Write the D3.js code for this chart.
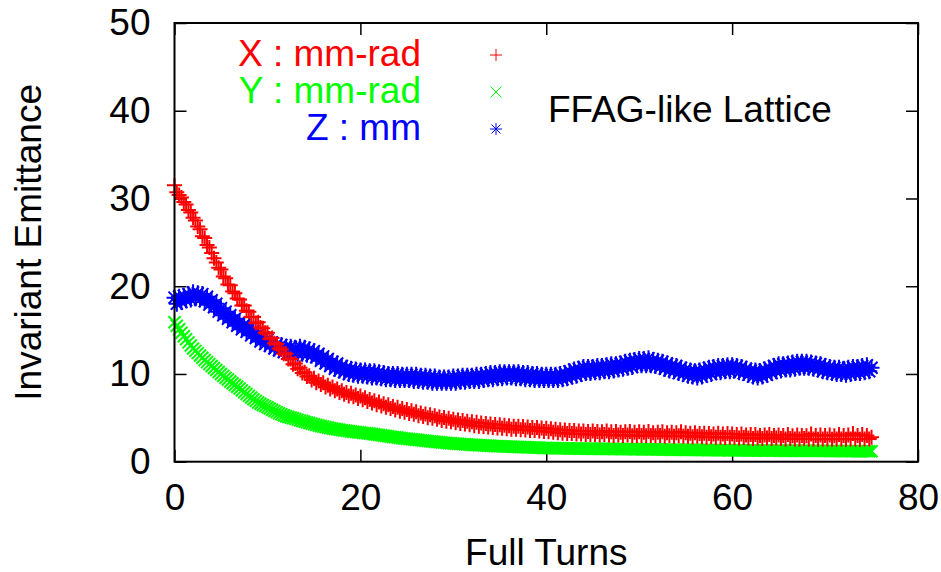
<!DOCTYPE html>
<html>
<head>
<meta charset="utf-8">
<script src="https://cdn.jsdelivr.net/npm/d3@7"></script>
<style>
  body { margin: 0; background: #fff; }
  text { font-family: "Liberation Sans", Arial, sans-serif; }
</style>
</head>
<body>
<div id="chart"></div>
<script>

// samples every quarter turn, 0 .. 75 full turns
const turnStep = 0.25;

// X : mm-rad (red +)
const emitX = [
  31.5, 30.7, 30.4, 30.1, 29.6, 29.3, 28.7, 28.4, 27.8, 27.5, 26.8, 26.5, 25.7, 25.5, 24.7, 24.4, 23.8, 23.2, 22.7, 22.1,
  21.9, 21.1, 20.9, 20.2, 20.1, 19.4, 19.2, 18.6, 18.5, 17.8, 17.8, 17.2, 17.1, 16.5, 16.5, 15.8, 15.9, 15.3, 15.2, 14.7,
  14.7, 14.0, 14.1, 13.5, 13.4, 12.9, 12.8, 12.3, 12.3, 11.7, 11.7, 11.1, 11.2, 10.6, 10.7, 10.1, 10.2, 9.7, 9.8, 9.3,
  9.5, 9.0, 9.2, 8.8, 9.0, 8.5, 8.7, 8.3, 8.5, 8.1, 8.3, 7.9, 8.1, 7.7, 7.9, 7.5, 7.8, 7.4, 7.6, 7.2,
  7.5, 7.05, 7.3, 6.85, 7.1, 6.7, 6.95, 6.5, 6.8, 6.35, 6.6, 6.2, 6.5, 6.05, 6.3, 5.9, 6.2, 5.75, 6.05, 5.65,
  5.95, 5.5, 5.8, 5.4, 5.7, 5.25, 5.55, 5.15, 5.45, 5.0, 5.35, 4.95, 5.25, 4.85, 5.1, 4.7, 5.05, 4.6, 4.95, 4.55,
  4.85, 4.45, 4.75, 4.35, 4.7, 4.3, 4.6, 4.2, 4.55, 4.1, 4.5, 4.05, 4.4, 4.0, 4.35, 3.95, 4.3, 3.9, 4.25, 3.85,
  4.2, 3.8, 4.15, 3.75, 4.1, 3.7, 4.05, 3.7, 4.05, 3.65, 4.0, 3.6, 3.95, 3.55, 3.9, 3.55, 3.9, 3.5, 3.85, 3.45,
  3.8, 3.4, 3.75, 3.35, 3.7, 3.3, 3.65, 3.25, 3.6, 3.2, 3.55, 3.2, 3.55, 3.15, 3.5, 3.15, 3.5, 3.1, 3.45, 3.1,
  3.5, 3.1, 3.45, 3.05, 3.4, 3.1, 3.5, 3.05, 3.4, 3.0, 3.45, 3.05, 3.35, 3.0, 3.4, 3.05, 3.45, 2.95, 3.35, 3.0,
  3.4, 3.0, 3.35, 2.95, 3.45, 3.0, 3.3, 2.95, 3.35, 3.0, 3.4, 2.9, 3.3, 2.95, 3.35, 2.9, 3.3, 2.95, 3.4, 2.9,
  3.3, 2.9, 3.25, 2.85, 3.3, 2.9, 3.2, 2.85, 3.25, 2.8, 3.2, 2.85, 3.15, 2.8, 3.25, 2.8, 3.15, 2.75, 3.2, 2.8,
  3.15, 2.75, 3.1, 2.7, 3.15, 2.75, 3.05, 2.7, 3.1, 2.65, 3.1, 2.7, 3.0, 2.65, 3.05, 2.7, 3.1, 2.65, 3.0, 2.7,
  3.05, 2.65, 3.0, 2.6, 3.1, 2.65, 2.95, 2.6, 3.05, 2.6, 3.0, 2.65, 2.95, 2.6, 3.15, 2.6, 3.0, 2.55, 3.05, 2.6,
  3.0, 2.6, 3.05, 2.55, 2.95, 2.6, 3.1, 2.6, 3.0, 2.55, 3.05, 2.6, 3.2, 2.6, 3.0, 2.55, 3.1, 2.6, 3.0, 2.6,
  2.8
];

// Y : mm-rad (green x)
const emitY = [
  15.9, 15.5, 15.1, 14.7, 14.3, 13.95, 13.6, 13.25, 12.9, 12.63, 12.37, 12.1, 11.85, 11.6, 11.35, 11.12, 10.9, 10.67, 10.45, 10.22,
  10.0, 9.78, 9.57, 9.36, 9.15, 8.95, 8.75, 8.55, 8.35, 8.13, 7.92, 7.71, 7.5, 7.31, 7.12, 6.93, 6.75, 6.61, 6.47, 6.33,
  6.2, 6.06, 5.92, 5.78, 5.65, 5.53, 5.41, 5.29, 5.18, 5.1, 5.03, 4.95, 4.88, 4.8, 4.71, 4.63, 4.55, 4.48, 4.41, 4.34,
  4.27, 4.2, 4.13, 4.06, 4.0, 3.94, 3.89, 3.83, 3.78, 3.73, 3.69, 3.64, 3.6, 3.56, 3.52, 3.49, 3.45, 3.42, 3.38, 3.35,
  3.32, 3.29, 3.26, 3.23, 3.2, 3.16, 3.12, 3.09, 3.05, 3.01, 2.97, 2.94, 2.9, 2.86, 2.82, 2.79, 2.75, 2.72, 2.68, 2.65,
  2.62, 2.59, 2.56, 2.53, 2.5, 2.47, 2.44, 2.41, 2.38, 2.35, 2.32, 2.3, 2.27, 2.24, 2.22, 2.19, 2.17, 2.15, 2.12, 2.1,
  2.08, 2.06, 2.04, 2.02, 2.0, 1.98, 1.96, 1.95, 1.93, 1.91, 1.9, 1.88, 1.87, 1.85, 1.84, 1.82, 1.81, 1.8, 1.78, 1.77,
  1.76, 1.75, 1.74, 1.73, 1.72, 1.71, 1.7, 1.69, 1.68, 1.67, 1.66, 1.65, 1.64, 1.63, 1.62, 1.61, 1.6, 1.59, 1.58, 1.57,
  1.56, 1.56, 1.55, 1.55, 1.54, 1.54, 1.53, 1.53, 1.52, 1.52, 1.51, 1.51, 1.5, 1.5, 1.5, 1.49, 1.49, 1.49, 1.48, 1.48,
  1.48, 1.48, 1.47, 1.47, 1.47, 1.46, 1.46, 1.46, 1.45, 1.45, 1.45, 1.44, 1.44, 1.44, 1.43, 1.43, 1.43, 1.42, 1.42, 1.42,
  1.42, 1.42, 1.41, 1.41, 1.41, 1.4, 1.4, 1.4, 1.39, 1.39, 1.39, 1.38, 1.38, 1.38, 1.37, 1.37, 1.37, 1.36, 1.36, 1.36,
  1.36, 1.36, 1.35, 1.35, 1.35, 1.34, 1.34, 1.34, 1.33, 1.33, 1.33, 1.32, 1.32, 1.32, 1.31, 1.31, 1.31, 1.3, 1.3, 1.3,
  1.3, 1.3, 1.3, 1.29, 1.29, 1.29, 1.29, 1.28, 1.28, 1.28, 1.28, 1.27, 1.27, 1.27, 1.27, 1.26, 1.26, 1.26, 1.26, 1.26,
  1.26, 1.26, 1.25, 1.25, 1.25, 1.25, 1.25, 1.24, 1.24, 1.24, 1.24, 1.24, 1.24, 1.23, 1.23, 1.23, 1.23, 1.23, 1.23, 1.23,
  1.23, 1.23, 1.22, 1.22, 1.22, 1.22, 1.22, 1.22, 1.21, 1.21, 1.21, 1.21, 1.21, 1.21, 1.2, 1.2, 1.2, 1.2, 1.2, 1.2,
  1.2
];

// Z : mm (blue *)
const emitZ = [
  18.7, 18.0, 18.8, 18.2, 18.9, 18.4, 19.1, 18.5, 19.3, 18.6, 19.2, 18.5, 19.1, 18.3, 18.8, 17.9, 18.4, 17.6, 18.0, 17.1,
  17.5, 16.7, 17.1, 16.3, 16.7, 15.9, 16.3, 15.5, 15.9, 15.1, 15.6, 14.8, 15.2, 14.4, 14.9, 14.1, 14.5, 13.7, 14.2, 13.4,
  13.9, 13.2, 13.6, 12.9, 13.4, 12.7, 13.3, 12.5, 13.1, 12.4, 13.1, 12.4, 13.0, 12.3, 13.1, 12.3, 13.0, 12.2, 12.8, 12.1,
  12.6, 11.9, 12.3, 11.5, 12.0, 11.2, 11.7, 10.9, 11.4, 10.6, 11.2, 10.4, 10.9, 10.2, 10.7, 10.0, 10.6, 9.9, 10.5, 9.8,
  10.4, 9.8, 10.4, 9.7, 10.3, 9.6, 10.3, 9.6, 10.2, 9.5, 10.1, 9.4, 10.0, 9.4, 10.0, 9.3, 10.0, 9.3, 9.9, 9.3,
  9.9, 9.3, 9.9, 9.2, 9.9, 9.2, 9.8, 9.1, 9.8, 9.1, 9.7, 9.0, 9.7, 9.0, 9.6, 9.0, 9.6, 9.0, 9.6, 9.0,
  9.7, 9.0, 9.7, 9.1, 9.8, 9.1, 9.8, 9.2, 9.8, 9.2, 9.9, 9.2, 9.9, 9.3, 10.0, 9.4, 10.1, 9.4, 10.1, 9.5,
  10.2, 9.5, 10.2, 9.6, 10.2, 9.6, 10.2, 9.5, 10.2, 9.5, 10.1, 9.4, 10.1, 9.4, 10.0, 9.3, 10.0, 9.3, 9.9, 9.3,
  9.9, 9.3, 9.9, 9.3, 9.9, 9.3, 10.0, 9.4, 10.1, 9.5, 10.3, 9.7, 10.5, 9.8, 10.6, 10.0, 10.8, 10.1, 10.8, 10.1,
  10.8, 10.2, 10.9, 10.2, 10.9, 10.3, 11.0, 10.3, 11.1, 10.4, 11.1, 10.5, 11.2, 10.6, 11.4, 10.7, 11.5, 10.8, 11.6, 11.0,
  11.7, 11.0, 11.7, 11.0, 11.8, 11.0, 11.6, 10.9, 11.5, 10.8, 11.4, 10.6, 11.2, 10.4, 11.0, 10.3, 10.9, 10.1, 10.7, 10.0,
  10.5, 9.8, 10.4, 9.7, 10.3, 9.6, 10.4, 9.7, 10.5, 9.9, 10.7, 10.0, 10.8, 10.2, 10.9, 10.2, 10.9, 10.3, 11.0, 10.3,
  11.0, 10.4, 10.9, 10.2, 10.8, 10.1, 10.6, 9.9, 10.4, 9.7, 10.4, 9.6, 10.3, 9.7, 10.5, 9.9, 10.7, 10.1, 10.9, 10.3,
  11.1, 10.4, 11.1, 10.5, 11.2, 10.5, 11.3, 10.6, 11.4, 10.7, 11.4, 10.7, 11.4, 10.7, 11.3, 10.6, 11.2, 10.5, 11.1, 10.3,
  10.9, 10.2, 10.8, 10.1, 10.7, 10.0, 10.7, 10.0, 10.6, 9.9, 10.7, 10.0, 10.8, 10.1, 10.8, 10.1, 10.9, 10.2, 11.0, 10.3,
  10.7
];

const xTicks = [0, 20, 40, 60, 80];
const yTicks = [0, 10, 20, 30, 40, 50];
const legendLabels = ["X : mm-rad", "Y : mm-rad", "Z : mm"];
const noteText = "FFAG-like Lattice";
const xTitle = "Full Turns";
const yTitle = "Invariant Emittance";


let W = 941, H = 572;
let plot = {left: 174.5, right: 918, top: 23, bottom: 461.7};
let fontSize = "37px";

let svg = d3.select("#chart")
            .append("svg")
            .attr("width", W)
            .attr("height", H);

let x = d3.scaleLinear().domain([0, 80]).range([plot.left, plot.right]);
let y = d3.scaleLinear().domain([0, 50]).range([plot.bottom, plot.top]);

// gnuplot point types (plot size, legend size)
function plusPath(r)  { return `M${-r},0H${r}M0,${-r}V${r}`; }
function crossPath(r) { return `M${-r},${-r}L${r},${r}M${-r},${r}L${r},${-r}`; }
function starPath(r)  { let k = r * 0.75; return plusPath(r) + `M${-k},${-k}L${k},${k}M${-k},${k}L${k},${-k}`; }

let series = [
    {name: legendLabels[0], values: emitX, color: "#ff0000", shape: plusPath(7.5), key: plusPath(6)},
    {name: legendLabels[1], values: emitY, color: "#00ff00", shape: crossPath(6),  key: crossPath(5.5)},
    {name: legendLabels[2], values: emitZ, color: "#0000ff", shape: starPath(8),   key: starPath(6)}
];

// axes: ticks point inward, mirrored on top/right
function styleAxis(g) {
    g.select(".domain").remove();
    g.selectAll(".tick line").attr("stroke", "#000").attr("stroke-width", 1.5);
    g.selectAll("text")
        .attr("fill", "#000")
        .style("font-size", fontSize)
        .style("font-family", "'Liberation Sans', Arial, sans-serif");
}

svg.append("g")
    .attr("transform", "translate(0," + plot.bottom + ")")
    .call(d3.axisBottom(x).tickValues(xTicks).tickSize(-12).tickPadding(22))
    .call(styleAxis);

svg.append("g")
    .attr("transform", "translate(0," + plot.top + ")")
    .call(d3.axisTop(x).tickValues(xTicks).tickSize(-12).tickFormat(""))
    .call(styleAxis);

svg.append("g")
    .attr("transform", "translate(" + plot.left + ",0)")
    .call(d3.axisLeft(y).tickValues(yTicks).tickSize(-12).tickPadding(24))
    .call(styleAxis);

svg.append("g")
    .attr("transform", "translate(" + plot.right + ",0)")
    .call(d3.axisRight(y).tickValues(yTicks).tickSize(-12).tickFormat(""))
    .call(styleAxis);

// points, drawn blue -> green -> red so red sits on top
[series[2], series[1], series[0]].forEach(s => {
    svg.append("g")
        .selectAll("path")
        .data(s.values)
        .enter()
        .append("path")
        .attr("d", s.shape)
        .attr("transform", (d, i) => "translate(" + x(i * turnStep) + "," + y(d) + ")")
        .attr("fill", "none")
        .attr("stroke", s.color)
        .attr("stroke-width", 2);
});

// frame
svg.append("rect")
    .attr("x", plot.left)
    .attr("y", plot.top)
    .attr("width", plot.right - plot.left)
    .attr("height", plot.bottom - plot.top)
    .attr("fill", "none")
    .attr("stroke", "#000")
    .attr("stroke-width", 2);

// legend
let legend = svg.append("g");
series.forEach((s, i) => {
    let base = 66 + i * 37;
    legend.append("text")
        .attr("x", 421)
        .attr("y", base)
        .attr("text-anchor", "end")
        .attr("fill", s.color)
        .style("font-size", fontSize)
        .text(s.name);
    legend.append("path")
        .attr("d", s.key)
        .attr("transform", "translate(496," + (base - 11) + ")")
        .attr("fill", "none")
        .attr("stroke", s.color)
        .attr("stroke-width", 1);
});

svg.append("text")
    .attr("x", 548)
    .attr("y", 122)
    .attr("fill", "#000")
    .style("font-size", fontSize)
    .text(noteText);

// axis titles
svg.append("text")
    .attr("x", (plot.left + plot.right) / 2)
    .attr("y", 565)
    .attr("text-anchor", "middle")
    .style("font-size", fontSize)
    .text(xTitle);

svg.append("text")
    .attr("transform", "translate(41," + (plot.top + plot.bottom) / 2 + ") rotate(-90)")
    .attr("text-anchor", "middle")
    .style("font-size", fontSize)
    .text(yTitle);

</script>
</body>
</html>
